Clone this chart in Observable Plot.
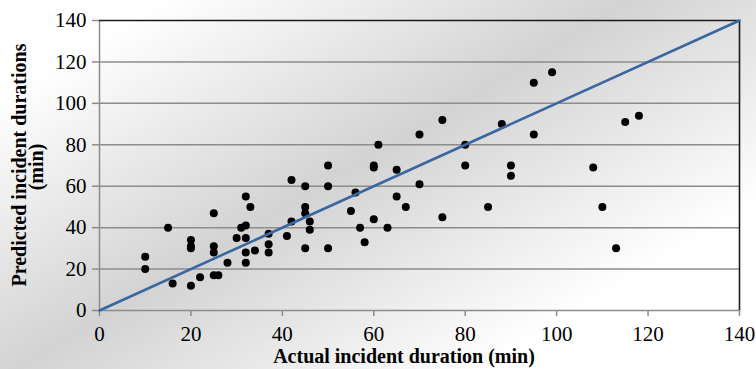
<!DOCTYPE html>
<html>
<head>
<meta charset="utf-8">
<script src="https://cdn.jsdelivr.net/npm/d3@7"></script>
<script src="https://cdn.jsdelivr.net/npm/@observablehq/plot@0.6"></script>
<style>
  html, body { margin: 0; padding: 0; background: #fff; }
  #chart {
    width: 756px; height: 369px; overflow: hidden;
    background: linear-gradient(149deg, #ffffff 12%, #d3d3d3 46%, #ffffff 80%);
  }
</style>
</head>
<body>
<div id="chart"></div>
<script>
const actual = [10,10,15,16,20,20,20,20,22,25,25,25,25,26,28,30,31,32,32,33,32,32,32,34,37,37,37,41,42,42,45,45,45,45,46,46,50,50,50,55,56,57,58,60,60,60,61,63,65,65,67,70,70,75,75,80,80,85,88,90,90,95,95,99,108,110,113,115,118];
const predicted = [26,20,40,13,34,31,30,12,16,47,31,28,17,17,23,35,40,41,55,50,35,28,23,29,37,32,28,36,63,43,60,50,47,30,43,39,70,60,30,48,57,40,33,70,69,44,80,40,68,55,50,85,61,92,45,80,70,50,90,70,65,85,110,115,69,50,30,91,94];
const lineX = [0, 140];
const lineY = [0, 140];
const xTicks = [0, 20, 40, 60, 80, 100, 120, 140];
const yTicks = [0, 20, 40, 60, 80, 100, 120, 140];
const xLabel = "Actual incident duration (min)";
const yLabel1 = "Predicted incident durations";
const yLabel2 = "(min)";

const points = actual.map((a, i) => ({a, p: predicted[i]}));
const diag = lineX.map((x, i) => ({x, y: lineY[i]}));

const svg = Plot.plot({
  width: 756,
  height: 369,
  marginLeft: 99,
  marginRight: 17,
  marginTop: 20,
  marginBottom: 59,
  style: {
    background: "transparent",
    fontFamily: "'Liberation Serif', 'Times New Roman', serif",
    fontSize: "21px",
    color: "#000",
    overflow: "visible"
  },
  x: {domain: [0, 140]},
  y: {domain: [0, 140]},
  marks: [
    Plot.gridY(yTicks.slice(1, -1), {stroke: "#8c8c8c", strokeOpacity: 1, strokeWidth: 1.5}),
    Plot.ruleX([0], {stroke: "#8c8c8c", strokeWidth: 1.5}),
    Plot.ruleY([0], {stroke: "#8c8c8c", strokeWidth: 1.5}),
    Plot.ruleX([140], {stroke: "#1a1a1a", strokeWidth: 1.6}),
    Plot.ruleY([140], {stroke: "#1a1a1a", strokeWidth: 1.6}),
    Plot.axisX(xTicks, {tickSize: 6, tickPadding: 10, label: null, stroke: "#8c8c8c", strokeWidth: 1.5, fill: "#000"}),
    Plot.axisY(yTicks, {tickSize: 7, tickPadding: 6, label: null, stroke: "#8c8c8c", strokeWidth: 1.5, fill: "#000"}),
    Plot.dot(points, {x: "a", y: "p", r: 4, fill: "#000", stroke: null}),
    Plot.line(diag, {x: "x", y: "y", stroke: "#3a67a2", strokeWidth: 2.6})
  ]
});

const s = d3.select(svg);
const font = "'Liberation Serif', 'Times New Roman', serif";
s.append("text")
  .attr("transform", "translate(26,165) rotate(-90)")
  .attr("text-anchor", "middle")
  .attr("font-family", font)
  .attr("font-weight", "bold")
  .attr("font-size", "20px")
  .attr("fill", "#000")
  .text(yLabel1);
s.append("text")
  .attr("transform", "translate(43,167) rotate(-90)")
  .attr("text-anchor", "middle")
  .attr("font-family", font)
  .attr("font-weight", "bold")
  .attr("font-size", "20px")
  .attr("fill", "#000")
  .text(yLabel2);
s.append("text")
  .attr("x", 404)
  .attr("y", 363)
  .attr("text-anchor", "middle")
  .attr("font-family", font)
  .attr("font-weight", "bold")
  .attr("font-size", "20px")
  .attr("fill", "#000")
  .text(xLabel);

document.getElementById("chart").appendChild(svg);
</script>
</body>
</html>
